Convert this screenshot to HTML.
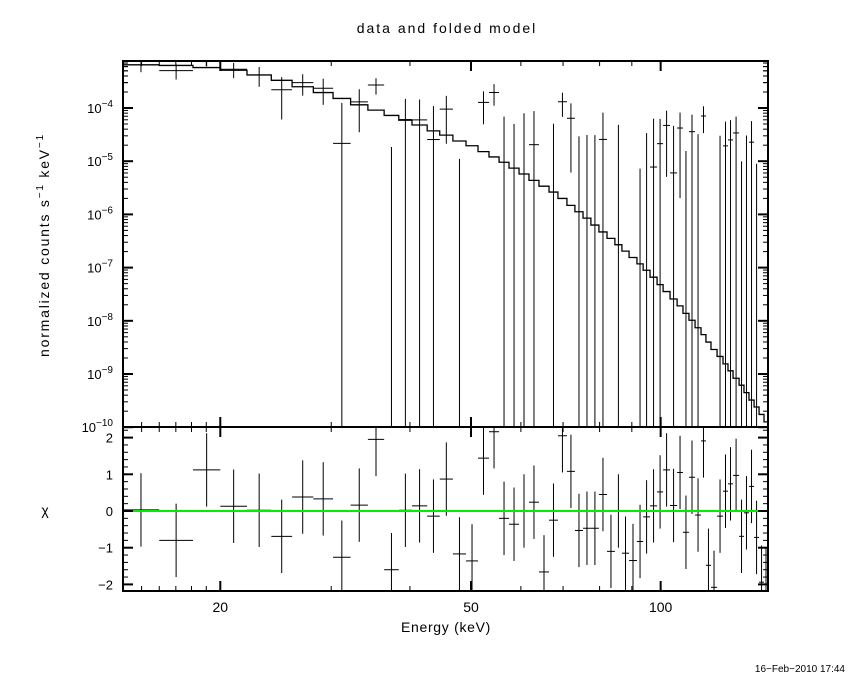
<!DOCTYPE html>
<html><head><meta charset="utf-8"><style>
body{margin:0;background:#fff;}
svg text{font-family:"Liberation Sans",sans-serif;fill:#000;}
</style></head><body>
<svg id="chart" width="850" height="680" viewBox="0 0 850 680" xmlns="http://www.w3.org/2000/svg">
<rect x="0" y="0" width="850" height="680" fill="#fff"/>
<text x="447" y="33" font-size="14" letter-spacing="2" text-anchor="middle">data and folded model</text>
<text transform="translate(49,245) rotate(-90)" font-size="14" letter-spacing="1.8" text-anchor="middle">normalized counts s<tspan dy="-6" font-size="10">−1</tspan><tspan dy="6"> keV</tspan><tspan dy="-6" font-size="10">−1</tspan></text>
<text x="45" y="515" font-size="14" text-anchor="middle">χ</text>
<text x="446" y="632" font-size="14" letter-spacing="0.7" text-anchor="middle">Energy (keV)</text>
<text x="845" y="672" font-size="10" text-anchor="end">16−Feb−2010 17:44</text>
<g id="g"></g>
</svg>
<script>
const binEdges=[14.0,16.0,18.1,20.0,22.05,24.1,26.0,28.1,30.2,32.2,34.3,36.4,38.4,40.3,42.6,44.6,46.8,49.1,51.3,53.4,55.4,57.45,59.6,61.8,64.1,66.5,68.7,71.0,73.1,75.3,77.5,79.8,82.2,84.6,86.8,89.1,91.7,93.8,96.2,98.7,100.9,103.5,106.2,108.5,110.9,113.4,115.9,118.0,120.2,122.9,125.6,127.9,130.3,133.2,135.6,138.1,140.7,143.3,145.9,148.6];
const modelLog=[-3.19,-3.20,-3.24,-3.29,-3.38,-3.48,-3.60,-3.71,-3.82,-3.94,-4.04,-4.14,-4.23,-4.32,-4.43,-4.51,-4.62,-4.71,-4.82,-4.92,-5.02,-5.13,-5.24,-5.36,-5.47,-5.58,-5.70,-5.83,-5.95,-6.07,-6.20,-6.33,-6.45,-6.57,-6.69,-6.81,-6.93,-7.05,-7.18,-7.32,-7.45,-7.59,-7.72,-7.86,-7.99,-8.13,-8.26,-8.40,-8.54,-8.67,-8.81,-8.94,-9.08,-9.21,-9.35,-9.49,-9.62,-9.76,-9.90];
const chiValues=[0.03,-0.8,1.12,0.13,0.02,-0.69,0.38,0.33,-1.26,0.16,1.95,-1.6,0.02,0.14,-0.14,0.87,-1.17,-1.36,1.44,2.16,-0.2,-0.36,0.0,0.24,-1.66,-0.25,2.05,1.08,-0.53,-0.47,-0.47,0.45,-1.1,0.0,-1.15,-1.35,-0.83,-0.16,0.14,0.52,1.12,0.15,1.05,-0.58,0.92,-0.11,1.91,-1.48,-2.08,-0.14,0.54,0.74,0.97,-0.69,-0.05,0.67,-0.72,-1.94,-2.0];
const errValues=[18,16,25,17,17,16,13,12,10.3,9.5,9.2,9,8.8,8.5,8.3,7.4,7.6,7.8,7.8,8.5,7.4,6.7,7.4,6.7,6.5,6.4,6.3,5.8,6,5.7,5.7,5.6,5,4.8,4.6,4.4,4.2,4,5.5,4.1,4.2,4,4,3.7,3.9,3.6,3.7,3.6,3.6,3.5,3.6,3.4,3.5,3.2,3.2,3.4,3.2,3.1,3.1]; // units of 1e-5
const xTickMajor=[20,50,100];
const xTickMinor=[15,16,17,18,19,30,40,60,70,80,90,200];
const yDecades=[-10,-9,-8,-7,-6,-5,-4];
const chiTicks=[-2,-1,0,1,2];

const L=123,R=768,T=61,M=427,B=591;
const xs=e=>471+630*Math.log10(e/50);
const ys=lg=>108+(-4-lg)*53.2;
const yc=c=>511-36.7*c;
const NS='http://www.w3.org/2000/svg';
const g=document.getElementById('g');
function ln(x1,y1,x2,y2,col,w,name){const l=document.createElementNS(NS,'line');
l.setAttribute('x1',x1);l.setAttribute('y1',y1);l.setAttribute('x2',x2);l.setAttribute('y2',y2);
l.setAttribute('stroke',col||'#000');l.setAttribute('stroke-width',w||1);


g.appendChild(l);return l;}
function tx(x,y,s,anchor,size,name){const t=document.createElementNS(NS,'text');
t.setAttribute('x',x);t.setAttribute('y',y);t.setAttribute('text-anchor',anchor);t.setAttribute('font-size',size);
t.innerHTML=s;


g.appendChild(t);return t;}
const cl=(v,a,b)=>Math.max(a,Math.min(b,v));

let p='';
for(let i=0;i<modelLog.length;i++){const y=cl(ys(modelLog[i]),T,M);const x1=xs(binEdges[i]),x2=Math.min(xs(binEdges[i+1]),R);
p+=(i?'L':'M')+x1+','+y+'L'+x2+','+y;}
const mp=document.createElementNS(NS,'path');mp.setAttribute('d',p);mp.setAttribute('fill','none');mp.setAttribute('stroke','#000');mp.setAttribute('stroke-width','1.3');


g.appendChild(mp);

for(let i=0;i<chiValues.length;i++){
 const x1=xs(binEdges[i]),x2=Math.min(xs(binEdges[i+1]),R),xm=(x1+x2)/2;
 const m=Math.pow(10,modelLog[i]),e=errValues[i]*1e-5,d=m+chiValues[i]*e;
 const hi=d+e,lo=d-e;
 if(hi>0){const yh=cl(ys(Math.log10(hi)),T,M);const yl=lo>0?cl(ys(Math.log10(lo)),T,M):M;
  ln(xm,yh,xm,yl,'#000',1,'data-error-bar');
  if(d>0){const yd=ys(Math.log10(d));if(yd>T&&yd<M)ln(x1,yd,x2,yd,'#000',1,'data-bin');}}
 const c=chiValues[i];
 ln(xm,cl(yc(c+1),M,B),xm,cl(yc(c-1),M,B),'#000',1,'residual-error-bar');
 const ycv=yc(c);if(ycv>M&&ycv<B)ln(x1,ycv,x2,ycv,'#000',1,'residual-bin');
}
ln(L,yc(0),R,yc(0),'#00ee00',2,'zero-line');

[[T,M,'spectrum-panel-frame'],[M,B,'residual-panel-frame']].forEach(f=>{
 const r=document.createElementNS(NS,'rect');r.setAttribute('x',L);r.setAttribute('y',f[0]);r.setAttribute('width',R-L);r.setAttribute('height',f[1]-f[0]);
 r.setAttribute('fill','none');r.setAttribute('stroke','#000');r.setAttribute('stroke-width','2');
 
 
 g.appendChild(r);});

[[T,M],[M,B]].forEach(([t,b])=>{
 xTickMajor.forEach(v=>{const x=xs(v);ln(x,t,x,t+10,'#000',2,'x-major-tick');ln(x,b,x,b-10,'#000',2,'x-major-tick');});
 xTickMinor.forEach(v=>{const x=xs(v);if(x>L&&x<R){ln(x,t,x,t+5,'#000',1,'x-minor-tick');ln(x,b,x,b-5,'#000',1,'x-minor-tick');}});
});
xTickMajor.forEach(v=>tx(xs(v),612,v,'middle',14,'x-tick-label'));

yDecades.forEach(dd=>{const y=ys(dd);
 ln(L,y,L+10,y,'#000',2,'y-major-tick');ln(R,y,R-10,y,'#000',2,'y-major-tick');
 tx(113,y+5,'10<tspan dy="-6" font-size="10">'+(dd<0?'−':'')+Math.abs(dd)+'</tspan>','end',13,'y-tick-label');
 for(let k=2;k<10;k++){const y2=ys(dd+Math.log10(k));if(y2>T&&y2<M){ln(L,y2,L+5,y2,'#000',1,'y-minor-tick');ln(R,y2,R-5,y2,'#000',1,'y-minor-tick');}}
});
for(let k=2;k<10;k++){const y2=ys(-4+Math.log10(k));if(y2>T){ln(L,y2,L+5,y2,'#000',1,'y-minor-tick');ln(R,y2,R-5,y2,'#000',1,'y-minor-tick');}}
chiTicks.forEach(c=>{const y=yc(c);ln(L,y,L+10,y,'#000',2,'chi-major-tick');ln(R,y,R-10,y,'#000',2,'chi-major-tick');
 tx(113,y+5,(c<0?'−':'')+Math.abs(c),'end',13,'chi-tick-label');});
for(let c=-2.2;c<=2.21;c+=0.2){const y=yc(c);if(y>M&&y<B){ln(L,y,L+5,y,'#000',1,'chi-minor-tick');ln(R,y,R-5,y,'#000',1,'chi-minor-tick');}}
</script>
</body></html>
